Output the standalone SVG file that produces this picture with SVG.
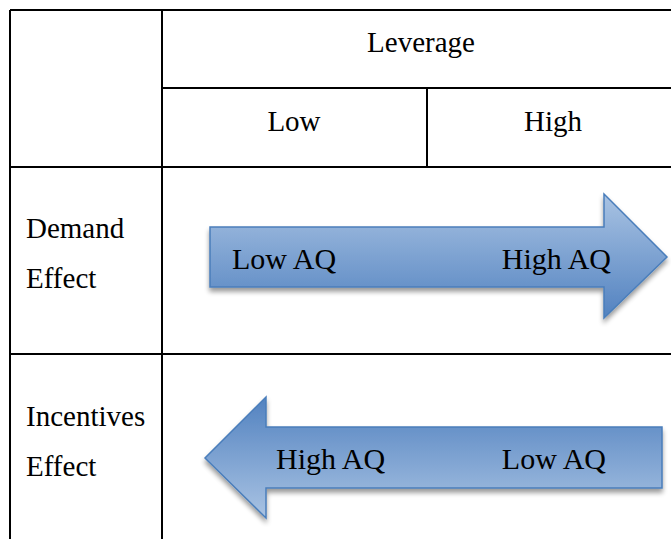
<svg xmlns="http://www.w3.org/2000/svg" width="671" height="539" viewBox="0 0 671 539">
<defs>
<linearGradient id="gDown" x1="0" y1="0" x2="0" y2="1"><stop offset="0" stop-color="#a9c3e3"/><stop offset="1" stop-color="#5282c0"/></linearGradient>
<linearGradient id="gUp" x1="0" y1="0" x2="0" y2="1"><stop offset="0" stop-color="#5282c0"/><stop offset="1" stop-color="#a9c3e3"/></linearGradient>
<filter id="sh" x="-10%" y="-20%" width="120%" height="150%"><feGaussianBlur in="SourceAlpha" stdDeviation="2.5"/><feOffset dx="0" dy="4"/><feComponentTransfer><feFuncA type="linear" slope="0.4"/></feComponentTransfer><feMerge><feMergeNode/><feMergeNode in="SourceGraphic"/></feMerge></filter>
</defs>
<style>
.grid{stroke:#000;stroke-width:2;fill:none}
.t{font-family:"Liberation Serif","Times New Roman",serif;font-size:29px;fill:#000}
.a{font-family:"Liberation Serif","Times New Roman",serif;font-size:30px;fill:#000}
.arr{stroke:#4a7ebb;stroke-width:1.5;filter:url(#sh)}
</style>
<rect width="671" height="539" fill="#fff"/>
<g id="table">
<path class="grid" d="M10 10H671M10 10V539M162 10V539M162 88H671M10 167H671M427 88V167M10 354H671"/>
</g>
<g id="headers">
<text class="t" x="421" y="52" text-anchor="middle">Leverage</text>
<text class="t" x="294" y="131" text-anchor="middle">Low</text>
<text class="t" x="553" y="131" text-anchor="middle">High</text>
<text class="t" x="26" y="238">Demand</text>
<text class="t" x="26" y="288">Effect</text>
<text class="t" x="26" y="426">Incentives</text>
<text class="t" x="26" y="476">Effect</text>
</g>
<g id="demand-arrow">
<path class="arr" fill="url(#gDown)" d="M210 227H604V194L667 257L604 318V287H210Z"/>
<text class="a" x="232" y="269">Low AQ</text>
<text class="a" x="611" y="269" text-anchor="end">High AQ</text>
</g>
<g id="incentives-arrow">
<path class="arr" fill="url(#gUp)" d="M662 427H266V397L205 458L266 518V488H662Z"/>
<text class="a" x="276" y="469">High AQ</text>
<text class="a" x="606" y="469" text-anchor="end">Low AQ</text>
</g>
</svg>
